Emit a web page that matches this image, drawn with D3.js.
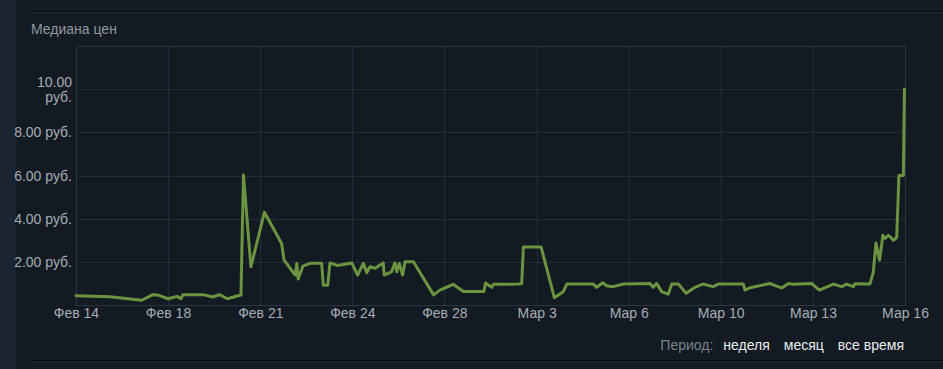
<!DOCTYPE html>
<html>
<head>
<meta charset="utf-8">
<script src="https://cdn.jsdelivr.net/npm/d3@7/dist/d3.min.js"></script>
<style>
    body { margin: 0; background: #131a22; overflow: hidden; }
    svg { display: block; font-family: "Liberation Sans", Arial, sans-serif; }
    .annotation { fill: #8f98a0; font-size: 14px; }
    .axisLabel { fill: #a4adb5; font-size: 14px; }
    .periodLink { fill: #e8ecef; font-size: 14px; }
</style>
</head>
<body>
<svg class="chart" width="943" height="369"></svg>
<script>
// days since Feb 14
var days = [0, 1.23, 2.38, 2.78, 2.97, 3.33, 3.66, 3.80, 3.87, 4.60, 4.95, 5.19, 5.48, 5.97,
    6.06, 6.33, 6.82, 7.44, 7.53, 7.93, 7.99, 8.04, 8.21, 8.47, 8.89, 8.95, 9.11, 9.19, 9.46,
    9.98, 10.19, 10.40, 10.52, 10.64, 10.82, 11.12, 11.15, 11.42, 11.54, 11.61, 11.70, 11.82,
    11.91, 12.21, 12.94, 13.17, 13.65, 14.02, 14.76, 14.82, 15.04, 15.11, 16.01, 16.13, 16.19,
    16.83, 17.31, 17.63, 17.76, 18.72, 18.84, 19.06, 19.20, 19.44, 19.81, 20.77, 20.89, 21.01,
    21.20, 21.43, 21.56, 21.80, 22.08, 22.40, 22.68, 23.06, 23.24, 24.15, 24.21, 24.39, 25.11,
    25.23, 25.54, 25.78, 25.96, 26.62, 26.90, 27.41, 27.71, 27.89, 28.13, 28.19, 28.73, 28.85,
    28.95, 29.08, 29.20, 29.28, 29.40, 29.49, 29.58, 29.70, 29.78, 29.94, 29.98];

var prices = [0.43, 0.38, 0.22, 0.48, 0.46, 0.29, 0.40, 0.29, 0.48, 0.48, 0.37, 0.48, 0.29, 0.46,
    6.02, 1.77, 4.30, 2.85, 2.08, 1.39, 1.93, 1.20, 1.80, 1.93, 1.93, 0.92, 0.92, 1.95, 1.83,
    1.95, 1.39, 1.93, 1.49, 1.77, 1.70, 1.95, 1.39, 1.54, 1.95, 1.54, 1.93, 1.39,
    2.00, 2.00, 0.47, 0.69, 0.96, 0.63, 0.63, 1.02, 0.82, 0.96, 0.97, 1.00, 2.69,
    2.69, 0.34, 0.61, 0.97, 0.97, 0.82, 1.03, 0.89, 0.85, 0.97, 1.00, 0.82, 1.00,
    0.61, 0.50, 0.97, 0.97, 0.54, 0.82, 0.97, 0.85, 0.97, 0.97, 0.69, 0.80, 1.00,
    0.93, 0.79, 1.00, 0.96, 1.00, 0.69, 0.97, 0.85, 0.97, 0.85, 0.99, 0.97, 1.50,
    2.87, 2.08, 3.23, 3.08, 3.23, 3.13, 3.00, 3.13, 6.00, 6.00, 10.00];

var tickDays = [0, 3.33, 6.67, 10, 13.33, 16.67, 20, 23.33, 26.67, 30];
var tickLabels = ["Фев 14", "Фев 18", "Фев 21", "Фев 24", "Фев 28", "Мар 3", "Мар 6", "Мар 10", "Мар 13", "Мар 16"];
var priceTicks = [2, 4, 6, 8, 10];
var priceMax = 12;
var periodLinks = ["неделя", "месяц", "все время"];

(function () {
    var svg = d3.select(".chart"),
        margin = {
            top: 46,
            right: 38,
            bottom: 64,
            left: 76
        },
        width = +svg.attr("width") - margin.left - margin.right,
        height = +svg.attr("height") - margin.top - margin.bottom;

    // page chrome
    svg.append("rect")
        .attr("x", 0)
        .attr("y", 0)
        .attr("width", 16)
        .attr("height", +svg.attr("height"))
        .attr("fill", "#1b2532");

    svg.append("rect")
        .attr("x", 31)
        .attr("y", 11)
        .attr("width", 912)
        .attr("height", 1)
        .attr("fill", "#07090c");
    svg.append("rect")
        .attr("x", 31)
        .attr("y", 12)
        .attr("width", 912)
        .attr("height", 1)
        .attr("fill", "#1f2833");

    svg.append("rect")
        .attr("x", 31)
        .attr("y", 360)
        .attr("width", 912)
        .attr("height", 1)
        .attr("fill", "#07090c");
    svg.append("rect")
        .attr("x", 31)
        .attr("y", 361)
        .attr("width", 912)
        .attr("height", 1)
        .attr("fill", "#1f2833");

    svg.append("text")
        .attr("x", 31)
        .attr("y", 34)
        .attr("class", "annotation")
        .text("Медиана цен");

    var g = svg.append("g").attr("transform", "translate(" + margin.left + "," + margin.top + ")");

    var x = d3.scaleLinear()
        .range([0, width])
        .domain([0, 30]);

    var y = d3.scaleLinear()
        .range([height, 0])
        .domain([0, priceMax]);

    // grid
    g.selectAll(".vgrid")
        .data(tickDays)
        .enter()
        .append("line")
        .attr("x1", function (d) { return Math.round(x(d)) + 0.5; })
        .attr("x2", function (d) { return Math.round(x(d)) + 0.5; })
        .attr("y1", 0)
        .attr("y2", height)
        .attr("stroke", "#232d39")
        .attr("stroke-width", 1);

    g.selectAll(".hgrid")
        .data(priceTicks)
        .enter()
        .append("line")
        .attr("x1", 0)
        .attr("x2", width)
        .attr("y1", function (d) { return Math.round(y(d)) + 0.5; })
        .attr("y2", function (d) { return Math.round(y(d)) + 0.5; })
        .attr("stroke", "#232d39")
        .attr("stroke-width", 1);

    g.append("rect")
        .attr("x", 0.5)
        .attr("y", 0.5)
        .attr("width", width)
        .attr("height", height)
        .attr("fill", "none")
        .attr("stroke", "#2a3644");

    // x axis
    var xAxis = g.append("g")
        .attr("transform", "translate(0," + height + ")")
        .call(d3.axisBottom(x)
            .tickValues(tickDays)
            .tickFormat(function (d, i) { return tickLabels[i]; })
            .tickSize(0)
            .tickPadding(0));
    xAxis.select(".domain").remove();
    xAxis.selectAll("text")
        .attr("class", "axisLabel")
        .attr("y", 13)
        .attr("dy", 0)
        .attr("fill", null);
    xAxis.attr("font-family", null).attr("font-size", null);

    // y axis
    var yAxis = g.append("g")
        .call(d3.axisLeft(y)
            .tickValues(priceTicks)
            .tickFormat(function (d) { return d3.format(".2f")(d) + " руб."; })
            .tickSize(0)
            .tickPadding(4));
    yAxis.select(".domain").remove();
    yAxis.attr("font-family", null).attr("font-size", null);
    yAxis.selectAll("text")
        .attr("class", "axisLabel")
        .attr("fill", null)
        .attr("dy", "0.33em")
        .each(function () {
            var t = d3.select(this),
                words = t.text().split(" ");
            if (this.getComputedTextLength() > 62) {
                t.text(null);
                t.append("tspan").attr("x", -4).attr("dy", "-0.2em").text(words[0]);
                t.append("tspan").attr("x", -4).attr("dy", "1.05em").text(words[1]);
            }
        });

    // price line
    var line = d3.line()
        .x(function (d, i) { return x(days[i]); })
        .y(function (d) { return y(d); });

    g.append("path")
        .datum(prices)
        .attr("fill", "none")
        .attr("stroke", "#6a9440")
        .attr("stroke-linejoin", "round")
        .attr("stroke-linecap", "round")
        .attr("stroke-width", 3)
        .attr("d", line);

    // period links, laid out right to left
    var right = 904;
    for (var i = periodLinks.length - 1; i >= 0; i--) {
        var t = svg.append("text")
            .attr("x", right)
            .attr("y", 350)
            .attr("text-anchor", "end")
            .attr("class", "periodLink")
            .text(periodLinks[i]);
        right -= t.node().getComputedTextLength() + 14;
    }
    svg.append("text")
        .attr("x", right + 4)
        .attr("y", 350)
        .attr("text-anchor", "end")
        .attr("class", "annotation")
        .attr("fill-opacity", 0.85)
        .text("Период:");
})();
</script>
</body>
</html>
